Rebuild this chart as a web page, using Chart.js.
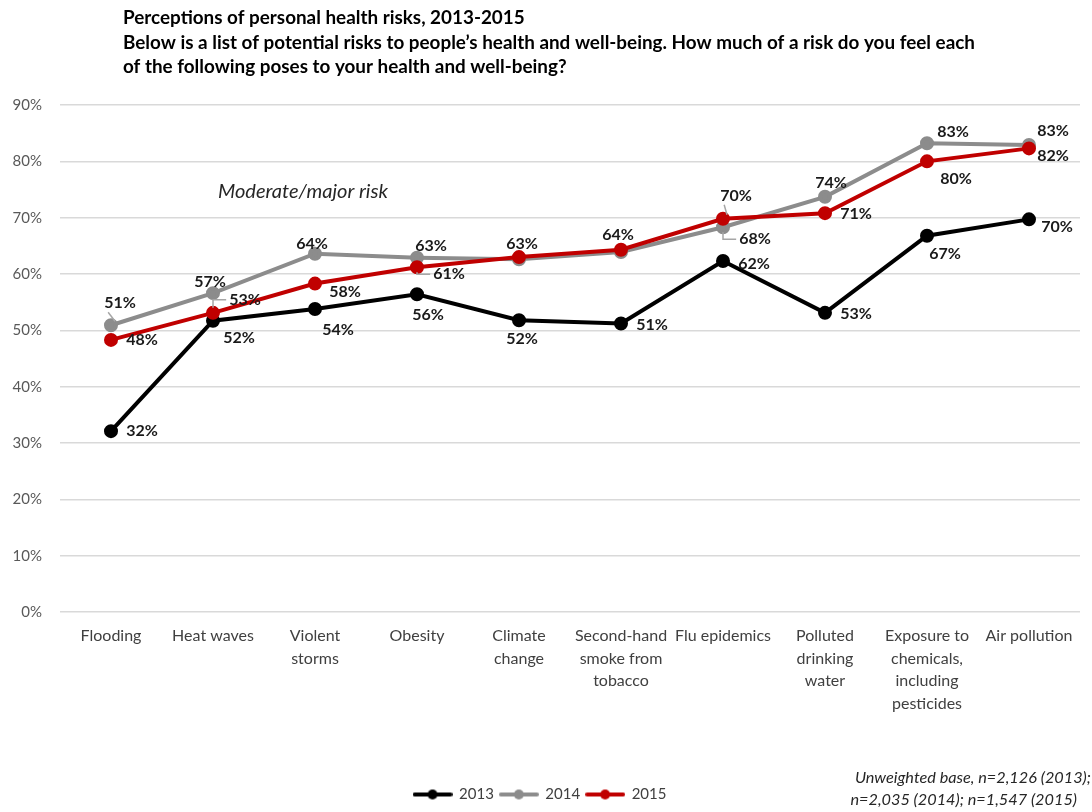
<!DOCTYPE html>
<html>
<head>
<meta charset="utf-8">
<script src="https://cdn.jsdelivr.net/npm/chart.js@4.4.1/dist/chart.umd.min.js"></script>
<style>
  html, body { margin: 0; padding: 0; background: #ffffff; }
  #wrap { width: 1092px; height: 812px; position: relative; }
</style>
</head>
<body>
<div id="wrap"><canvas id="c" width="1092" height="812"></canvas></div>
<script>
// ---- Data ----
const categories = [
  ['Flooding'],
  ['Heat waves'],
  ['Violent', 'storms'],
  ['Obesity'],
  ['Climate', 'change'],
  ['Second-hand', 'smoke from', 'tobacco'],
  ['Flu epidemics'],
  ['Polluted', 'drinking', 'water'],
  ['Exposure to', 'chemicals,', 'including', 'pesticides'],
  ['Air pollution']
];
const seriesNames = ['2013', '2014', '2015'];
const values2013 = [32.1, 51.7, 53.8, 56.4, 51.8, 51.2, 62.3, 53.1, 66.8, 69.7];
const values2014 = [50.9, 56.6, 63.6, 62.9, 62.6, 63.9, 68.3, 73.7, 83.2, 82.9];
const values2015 = [48.3, 53.1, 58.3, 61.2, 63.0, 64.3, 69.8, 70.8, 80.0, 82.3];
const yTicks = [0, 10, 20, 30, 40, 50, 60, 70, 80, 90];
const titleLines = [
  'Perceptions of personal health risks, 2013-2015',
  'Below is a list of potential risks to people\u2019s health and well-being. How much of a risk do you feel each',
  'of the following poses to your health and well-being?'
];
const noteText = 'Moderate/major risk';
const footLines = ['Unweighted base, n=2,126 (2013);', 'n=2,035 (2014); n=1,547 (2015)'];

// ---- Label placement (style, relative to each point) ----
const offsets2013 = [[31,0],[26,17],[23,21],[11,21],[3,19],[31,1],[31,3],[31,1],[18,18],[28,7]];
const offsets2014 = [[9,-22],[-3,-11],[-3,-10],[14,-12],null,null,[32,12],[6,-14],[26,-11],[24,-14]];
const offsets2015 = [[31,0],[32,-13],[30,8],[32,7],[3,-13],[-3,-15],[13,-23],[31,1],[29,18],[24,7]];
const leaders2013 = [];
const leaders2014 = ['diag',null,null,null,null,null,'L',null,null,null];
const leaders2015 = [null,'L',null,'L',null,null,'diag',null,null,null];

const colors = ['#000000', '#8c8c8c', '#c00000'];
const FONT = 'Lato';
Chart.defaults.font.family = FONT;

function legendSymbol(color) {
  const c = document.createElement('canvas');
  c.width = 40; c.height = 12;
  const g = c.getContext('2d');
  g.strokeStyle = color; g.lineWidth = 4; g.lineCap = 'round';
  g.beginPath(); g.moveTo(2, 6); g.lineTo(38, 6); g.stroke();
  g.fillStyle = color; g.beginPath(); g.arc(20, 6, 5, 0, Math.PI * 2); g.fill();
  return c;
}
const legendImages = colors.map(legendSymbol);

function fitFont(ctx, style, base, text, target) {
  ctx.font = style + ' ' + base + 'px ' + FONT;
  const w = ctx.measureText(text).width;
  return style + ' ' + (base * target / w).toFixed(2) + 'px ' + FONT;
}

const pointLabels = {
  id: 'pointLabels',
  afterDatasetsDraw(chart) {
    const ctx = chart.ctx;
    ctx.save();
    ctx.font = 'bold 16px ' + FONT;
    ctx.textAlign = 'center';
    ctx.textBaseline = 'middle';
    chart.data.datasets.forEach((ds, di) => {
      const meta = chart.getDatasetMeta(di);
      meta.data.forEach((pt, i) => {
        const off = ds.labelOffsets[i];
        if (!off) return;
        const x = pt.x + off[0], y = pt.y + off[1];
        const text = Math.round(ds.data[i]) + '%';
        const w = ctx.measureText(text).width;
        const lead = ds.leaders[i];
        if (lead) {
          ctx.strokeStyle = '#a6a6a6';
          ctx.lineWidth = 1.5;
          ctx.beginPath();
          if (lead === 'L') {
            const dir = y > pt.y ? 1 : -1;
            ctx.moveTo(x - w / 2 - 3, y);
            ctx.lineTo(pt.x, y);
            ctx.lineTo(pt.x, pt.y + dir * 5);
          } else {
            ctx.moveTo(pt.x + 4, pt.y - 4);
            ctx.lineTo(x - w / 2 + 4, y + 9);
          }
          ctx.stroke();
        }
        ctx.fillStyle = '#1a1a1a';
        ctx.fillText(text, x, y);
      });
    });
    ctx.restore();
  }
};

const texts = {
  id: 'texts',
  afterDraw(chart) {
    const { ctx, chartArea, scales } = chart;
    ctx.save();
    ctx.textBaseline = 'middle';
    ctx.textAlign = 'left';
    ctx.fillStyle = '#000000';
    ctx.font = fitFont(ctx, 'bold', 16, titleLines[1], 852);
    titleLines.forEach((t, i) => ctx.fillText(t, chartArea.left + 63, 18 + i * 24.5));

    ctx.font = fitFont(ctx, 'italic', 16, noteText, 170);
    ctx.fillStyle = '#262626';
    ctx.fillText(noteText, chartArea.left + 158, scales.y.getPixelForValue(80) + 30);

    ctx.font = fitFont(ctx, 'italic', 15, footLines[0], 236);
    ctx.textAlign = 'right';
    ctx.fillStyle = '#262626';
    ctx.fillText(footLines[0], chart.width - 1, 778);
    ctx.fillText(footLines[1], chart.width - 15, 800);
    ctx.restore();
  }
};

const datasets = [values2013, values2014, values2015].map((vals, i) => ({
  label: seriesNames[i],
  data: vals,
  borderColor: colors[i],
  backgroundColor: colors[i],
  pointBackgroundColor: colors[i],
  pointBorderColor: colors[i],
  borderWidth: 4,
  pointRadius: 5,
  pointHoverRadius: 5,
  tension: 0,
  order: 3 - i,
  labelOffsets: [offsets2013, offsets2014, offsets2015][i],
  leaders: [leaders2013, leaders2014, leaders2015][i]
}));

new Chart(document.getElementById('c'), {
  type: 'line',
  data: { labels: categories, datasets },
  options: {
    responsive: false,
    animation: false,
    events: [],
    layout: { padding: { top: 105, right: 12, left: 0, bottom: 0 } },
    plugins: {
      title: { display: false },
      tooltip: { enabled: false },
      legend: {
        position: 'bottom',
        labels: {
          usePointStyle: true,
          pointStyleWidth: 38,
          padding: 6,
          color: '#404040',
          font: { size: 15, family: FONT },
          sort: (a, b) => a.datasetIndex - b.datasetIndex,
          generateLabels(chart) {
            const items = Chart.defaults.plugins.legend.labels.generateLabels(chart);
            items.forEach(it => { it.pointStyle = legendImages[it.datasetIndex]; });
            return items;
          }
        }
      }
    },
    scales: {
      x: {
        offset: true,
        grid: { display: false },
        border: { display: false },
        ticks: {
          color: '#404040',
          font: { size: 16, family: FONT, lineHeight: 1.4 },
          padding: 5,
          maxRotation: 0,
          minRotation: 0,
          autoSkip: false
        },
        afterFit(scale) { scale.height = 169; }
      },
      y: {
        min: 0,
        max: 90,
        afterBuildTicks(scale) { scale.ticks = yTicks.map(v => ({ value: v })); },
        grid: { color: '#d9d9d9', lineWidth: 1.5, drawTicks: false },
        border: { display: false },
        ticks: {
          color: '#595959',
          font: { size: 15, family: FONT },
          padding: 18,
          callback: v => v + '%'
        },
        afterFit(scale) { scale.width = 60; }
      }
    }
  },
  plugins: [pointLabels, texts]
});
</script>
</body>
</html>
